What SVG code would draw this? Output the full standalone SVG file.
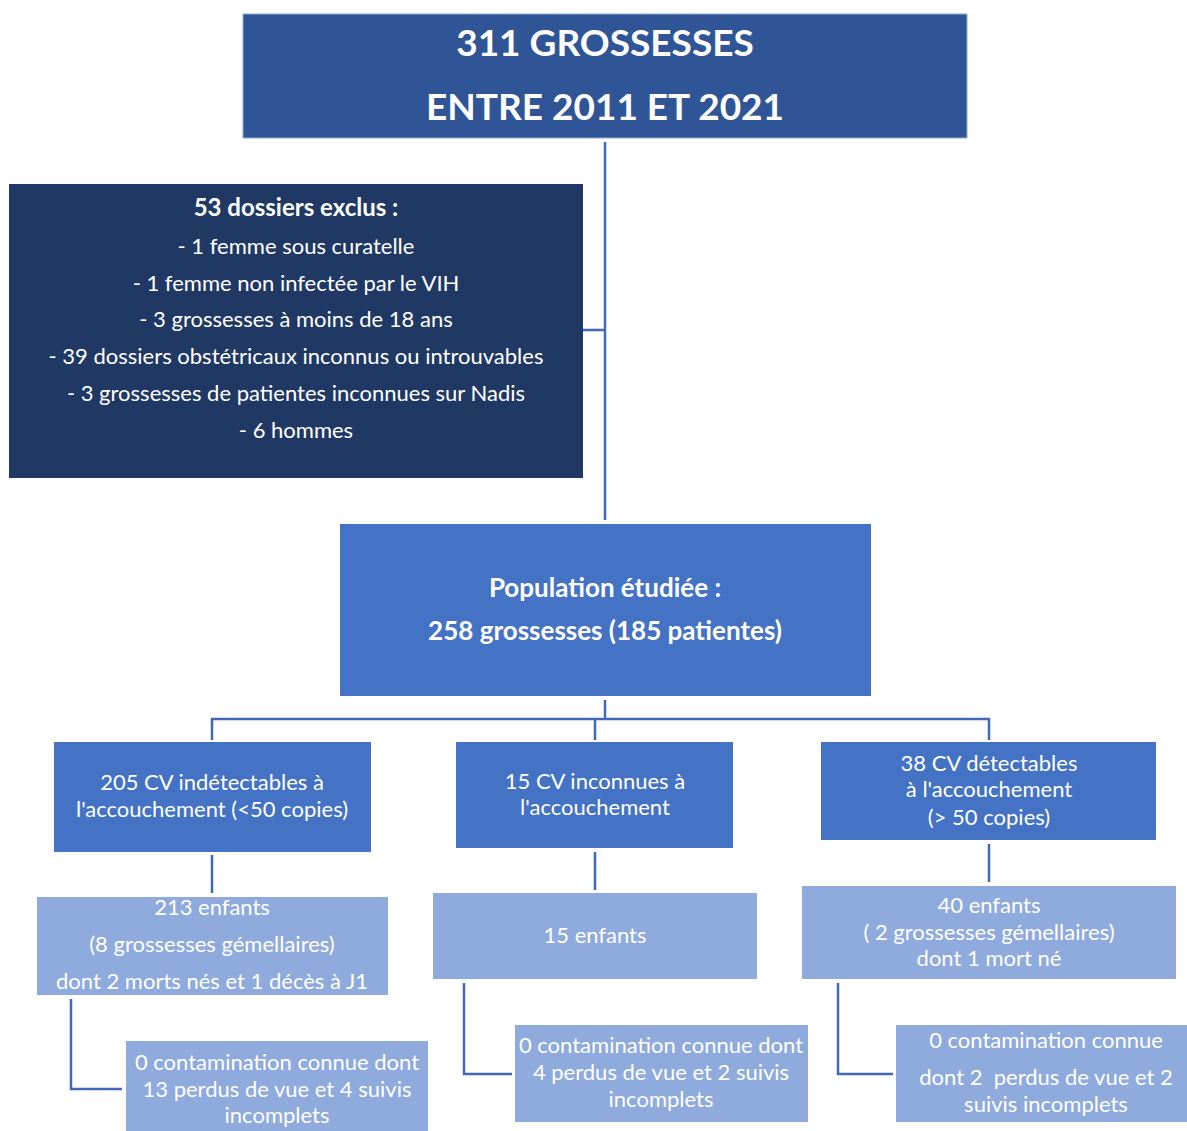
<svg xmlns="http://www.w3.org/2000/svg" width="1187" height="1131" viewBox="0 0 1187 1131">
<style>
text{font-family:Lato,"Open Sans","Liberation Sans",sans-serif;fill:#fff;text-anchor:middle}
.t{font-size:37px;font-weight:bold}
.ex{font-size:22px}
.h{font-size:24px;font-weight:bold}
.p{font-size:26px;font-weight:bold}
.m{font-size:22px}
.c{fill:none;stroke:#4169B8;stroke-width:2.5}
</style>
<rect width="1187" height="1131" fill="#fff"/>
<g id="connectors" class="c">
<path d="M605 142V520M583 330H605"/>
<path d="M605 700V719M212 740V719H989V740M595 719V740"/>
<path d="M212 855V893M595 852V890M989 844V882"/>
<path d="M71 999V1089H122M464 983V1074H512M838 983V1074H893"/>
</g>
<g id="top">
<rect x="243" y="14" width="724" height="124" fill="#2F5597" stroke="#8FAADC" stroke-width="1"/>
<text class="t" x="605" y="56">311 GROSSESSES</text>
<text class="t" x="605" y="120">ENTRE 2011 ET 2021</text>
</g>
<g id="excluded">
<rect x="9" y="184" width="574" height="294" fill="#203864"/>
<text class="h" x="296" y="216">53 dossiers exclus :</text>
<text class="ex" x="296" y="254">- 1 femme sous curatelle</text>
<text class="ex" x="296" y="291">- 1 femme non infectée par le VIH</text>
<text class="ex" x="296" y="327">- 3 grossesses à moins de 18 ans</text>
<text class="ex" x="296" y="364">- 39 dossiers obstétricaux inconnus ou introuvables</text>
<text class="ex" x="296" y="401">- 3 grossesses de patientes inconnues sur Nadis</text>
<text class="ex" x="296" y="438">- 6 hommes</text>
</g>
<g id="population">
<rect x="340" y="524" width="531" height="172" fill="#4472C4"/>
<text class="p" x="605" y="597">Population étudiée :</text>
<text class="p" x="605" y="640">258 grossesses (185 patientes)</text>
</g>
<g id="cv-indetectables">
<rect x="54" y="742" width="317" height="110" fill="#4472C4"/>
<text class="m" x="212" y="790">205 CV indétectables à</text>
<text class="m" x="212" y="817">l'accouchement (&lt;50 copies)</text>
</g>
<g id="cv-inconnues">
<rect x="456" y="742" width="277" height="106" fill="#4472C4"/>
<text class="m" x="595" y="789">15 CV inconnues à</text>
<text class="m" x="595" y="815">l'accouchement</text>
</g>
<g id="cv-detectables">
<rect x="821" y="742" width="335" height="98" fill="#4472C4"/>
<text class="m" x="989" y="771">38 CV détectables</text>
<text class="m" x="989" y="797">à l'accouchement</text>
<text class="m" x="989" y="825">(&gt; 50 copies)</text>
</g>
<g id="enfants-213">
<rect x="37" y="897" width="351" height="98" fill="#8FAADC"/>
<text class="m" x="212" y="915">213 enfants</text>
<text class="m" x="212" y="952">(8 grossesses gémellaires)</text>
<text class="m" x="212" y="989">dont 2 morts nés et 1 décès à J1</text>
</g>
<g id="enfants-15">
<rect x="433" y="893" width="324" height="86" fill="#8FAADC"/>
<text class="m" x="595" y="943">15 enfants</text>
</g>
<g id="enfants-40">
<rect x="802" y="886" width="374" height="93" fill="#8FAADC"/>
<text class="m" x="989" y="913">40 enfants</text>
<text class="m" x="989" y="940">( 2 grossesses gémellaires)</text>
<text class="m" x="989" y="966">dont 1 mort né</text>
</g>
<g id="contamination-a">
<rect x="126" y="1041" width="302" height="92" fill="#8FAADC"/>
<text class="m" x="277" y="1070">0 contamination connue dont</text>
<text class="m" x="277" y="1097">13 perdus de vue et 4 suivis</text>
<text class="m" x="277" y="1123">incomplets</text>
</g>
<g id="contamination-b">
<rect x="515" y="1025" width="293" height="97" fill="#8FAADC"/>
<text class="m" x="661" y="1053">0 contamination connue dont</text>
<text class="m" x="661" y="1080">4 perdus de vue et 2 suivis</text>
<text class="m" x="661" y="1107">incomplets</text>
</g>
<g id="contamination-c">
<rect x="896" y="1025" width="291" height="97" fill="#8FAADC"/>
<text class="m" x="1046" y="1048">0 contamination connue</text>
<text class="m" x="1046" y="1085" xml:space="preserve">dont 2  perdus de vue et 2</text>
<text class="m" x="1046" y="1112">suivis incomplets</text>
</g>
</svg>
